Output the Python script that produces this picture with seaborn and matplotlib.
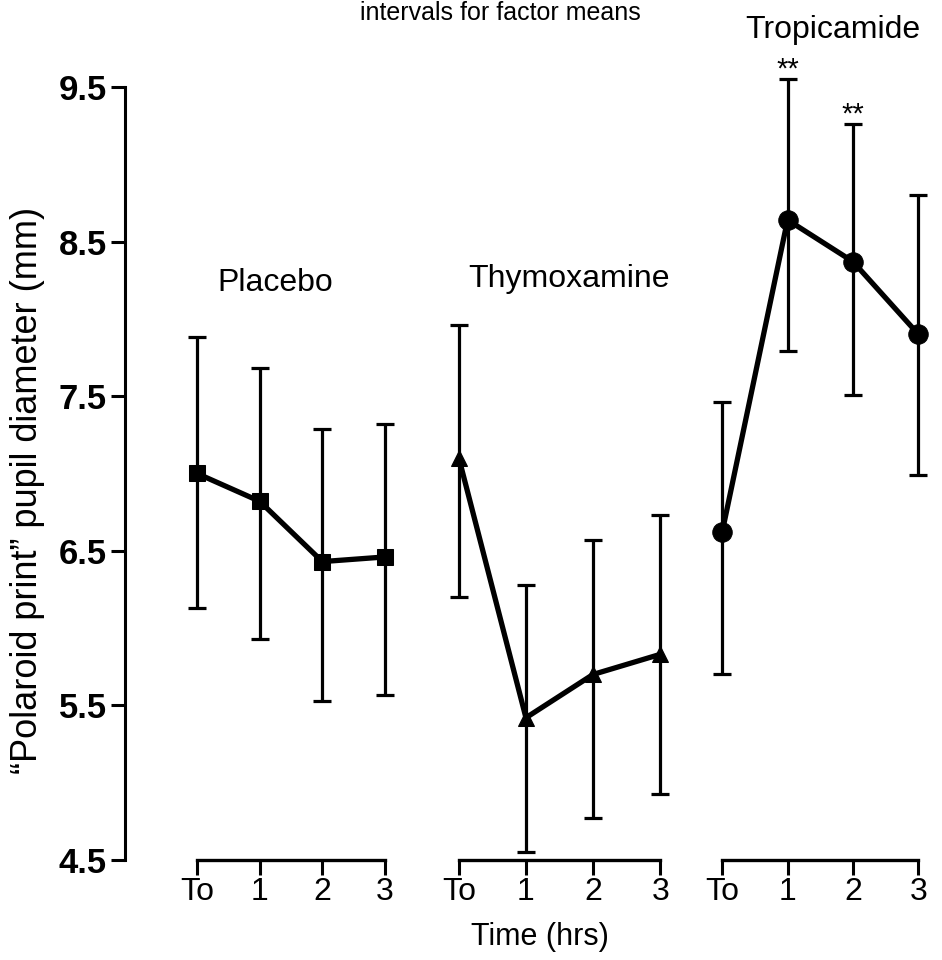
import matplotlib
matplotlib.use("Agg")
import matplotlib.pyplot as plt
import seaborn as sns
import pandas as pd
import numpy as np

# ---------------- data ----------------
times = ["To", "1", "2", "3"]
groups = ["Placebo", "Thymoxamine", "Tropicamide"]

placebo_mean = [7.00, 6.82, 6.43, 6.46]
placebo_lo = [6.13, 5.93, 5.53, 5.57]
placebo_hi = [7.88, 7.68, 7.29, 7.32]

thym_mean = [7.10, 5.42, 5.70, 5.83]
thym_lo = [6.20, 4.55, 4.77, 4.93]
thym_hi = [7.96, 6.28, 6.57, 6.73]

trop_mean = [6.62, 8.64, 8.37, 7.90]
trop_lo = [5.70, 7.79, 7.51, 6.99]
trop_hi = [7.46, 9.55, 9.26, 8.80]

trop_sig = ["", "**", "**", ""]

yticks = [4.5, 5.5, 6.5, 7.5, 8.5, 9.5]
ylabel = "\u201cPolaroid print\u201d pupil diameter (mm)"
xlabel = "Time (hrs)"
title_text = "intervals for factor means"

# ---------------- style ----------------
sns.set_style("ticks")
FONT = ["Liberation Sans", "DejaVu Sans"]
plt.rcParams["font.family"] = FONT
for k in ["text.color", "axes.labelcolor", "xtick.color", "ytick.color",
          "axes.edgecolor"]:
    plt.rcParams[k] = "black"

W, H = 942, 960
fig = plt.figure(figsize=(W / 100, H / 100), dpi=100)

y_lo, y_hi = 4.5, 9.7
ax_bottom_px, ax_top_px = 860, 56


def add_ax(left_px, right_px):
    return fig.add_axes([left_px / W, (H - ax_bottom_px) / H,
                         (right_px - left_px) / W,
                         (ax_bottom_px - ax_top_px) / H])


# (left px, right px, xlim)
specs = [
    (125, 410, (-1.15, 3.4)),
    (432, 687, (-0.4, 3.4)),
    (696, 938, (-0.4, 3.3)),
]
series = [
    (placebo_mean, placebo_lo, placebo_hi, "s", 12),
    (thym_mean, thym_lo, thym_hi, "^", 12),
    (trop_mean, trop_lo, trop_hi, "o", 14),
]

axes = []
for i, ((lpx, rpx, xl), (m, lo, hi, mk, ms)) in enumerate(zip(specs, series)):
    ax = add_ax(lpx, rpx)
    axes.append(ax)
    df = pd.DataFrame({"t": np.arange(len(times)), "mean": m,
                       "lo": lo, "hi": hi})
    yerr = np.vstack([df["mean"] - df["lo"], df["hi"] - df["mean"]])
    ax.errorbar(df["t"], df["mean"], yerr=yerr, fmt="none", ecolor="black",
                elinewidth=2.3, capsize=6.5, capthick=2.3, zorder=2)
    sns.lineplot(data=df, x="t", y="mean", ax=ax, color="black",
                 linewidth=3.8, marker=mk, markersize=ms,
                 markeredgecolor="black", markerfacecolor="black",
                 zorder=3, legend=False)
    ax.set_xlim(*xl)
    ax.set_ylim(y_lo, y_hi)
    ax.set_xticks(range(len(times)))
    ax.set_xticklabels(times)
    ax.set_xlabel("")
    ax.set_ylabel("")
    for s in ["top", "right"]:
        ax.spines[s].set_visible(False)
    ax.spines["bottom"].set_bounds(0, 3)
    ax.spines["bottom"].set_linewidth(2.4)
    ax.tick_params(axis="x", direction="out", length=11, width=2.2,
                   labelsize=23, pad=1)
    if i == 0:
        ax.spines["left"].set_bounds(4.5, 9.5)
        ax.spines["left"].set_linewidth(2.2)
        ax.set_yticks(yticks)
        ax.set_yticklabels([f"{v:.1f}" for v in yticks], fontweight="bold")
        ax.tick_params(axis="y", direction="out", length=10, width=2.2,
                       labelsize=25, pad=3)
        ax.set_ylabel(ylabel, fontsize=26)
        ax.yaxis.set_label_coords(-0.28, 0.46)
    else:
        ax.spines["left"].set_visible(False)
        ax.set_yticks([])
    ax.patch.set_alpha(0)

# significance asterisks
ax3 = axes[2]
for t, (h, s) in enumerate(zip(trop_hi, trop_sig)):
    if s:
        ax3.annotate(s, xy=(t, h), xytext=(0, 7), textcoords="offset points",
                     ha="center", va="center", fontsize=21)

# group labels and other text
fig.text(275 / W, 1 - 283 / H, "Placebo", ha="center", va="center",
         fontsize=23)
fig.text(569 / W, 1 - 279 / H, "Thymoxamine", ha="center", va="center",
         fontsize=23)
fig.text(833 / W, 1 - 30 / H, "Tropicamide", ha="center", va="center",
         fontsize=23)
fig.text(540 / W, 1 - 937 / H, xlabel, ha="center", va="center",
         fontsize=22)
fig.text(500 / W, 1 - 20 / H, title_text, ha="center", va="baseline",
         fontsize=18)

fig.savefig("out.png", dpi=100)
